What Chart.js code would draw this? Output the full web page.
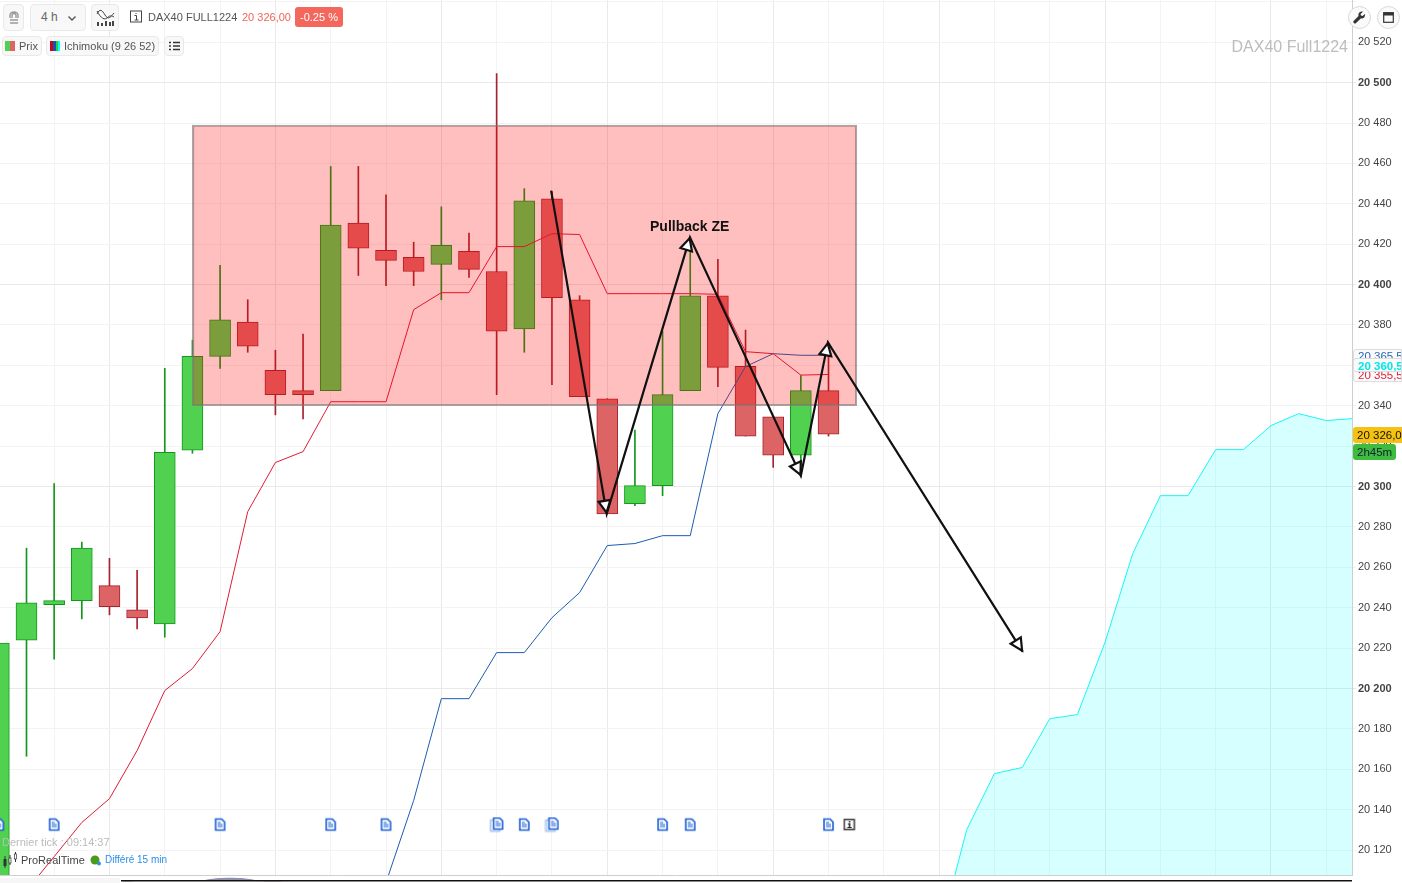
<!DOCTYPE html>
<html>
<head>
<meta charset="utf-8">
<title>DAX40 Full1224</title>
<script src="https://cdn.jsdelivr.net/npm/chart.js@4"></script>
<style>
    html, body { margin: 0; padding: 0; background: #fff; overflow: hidden; }
    body { width: 1402px; height: 883px; position: relative; font-family: "Liberation Sans", Arial, sans-serif; color: #555; }
    #wrap { position: absolute; left: 0; top: 0; width: 1402px; height: 883px; }
    .ui { position: absolute; white-space: nowrap; }
    .btn { position: absolute; background: #f8f8f8; border: 1px solid #e9e9e9; border-radius: 4px; box-sizing: border-box; }
    .round { position: absolute; width: 23px; height: 23px; border-radius: 50%; background: #fafafa; border: 1px solid #d8d8d8; box-sizing: border-box; }
    .tag { position: absolute; left: 1353px; width: 49px; overflow: hidden; white-space: nowrap; box-sizing: border-box; border-radius: 3px 0 0 3px; font-size: 11.5px; padding-left: 4px; }
</style>
</head>
<body>
<div id="wrap"><canvas id="mainChart"></canvas></div>

<!-- barre du haut -->
<div class="btn" style="left:3px;top:4px;width:21px;height:27px"></div>
<svg class="ui" style="left:8px;top:11px" width="12" height="14"><path d="M2 7V4a4 3 0 0 1 8 0v3M2 9h8M2 12h8M4 7V4a2 1.5 0 0 1 4 0v3" fill="none" stroke="#999" stroke-width="1.4"/></svg>
<div class="btn" style="left:30px;top:4px;width:56px;height:27px"></div>
<div class="ui" style="left:41px;top:10px;font-size:12px;color:#666">4 h</div>
<svg class="ui" style="left:67px;top:15px" width="10" height="7"><path d="M1.5 1.5L5 5l3.5-3.5" fill="none" stroke="#555" stroke-width="1.4"/></svg>
<div class="btn" style="left:91px;top:4px;width:28px;height:27px"></div>
<svg class="ui" style="left:96px;top:9px" width="19" height="18"><path d="M1 5C4-1 6 1 9 6s5 3 9-2M1 2c4 8 8 9 10 7s3-3 7-1" fill="none" stroke="#444" stroke-width="1"/><path d="M1 17V13h2v4zM5 17V14h2v3zM9 17V12h2v5zM13 17V13h2v4zM16 17V12h2v5z" fill="#444"/></svg>
<svg class="ui" style="left:130px;top:10px" width="12" height="13"><rect x="0.5" y="1" width="11" height="11" fill="none" stroke="#444"/><path d="M6 3v1M4.5 5.5H6.500V10M4.5 10h4" fill="none" stroke="#444"/></svg>
<div class="ui" style="left:148px;top:11px;font-size:11px;color:#555">DAX40 FULL1224</div>
<div class="ui" style="left:242px;top:11px;font-size:11px;color:#f0645a">20 326,00</div>
<div class="ui" style="left:295px;top:7px;width:48px;height:20px;background:#f4675c;border-radius:3px;color:#fff;font-size:11px;line-height:20px;text-align:center">-0.25 %</div>

<!-- legende -->
<div class="btn" style="left:2px;top:36px;width:40px;height:20px"></div>
<div class="ui" style="left:5px;top:41px;width:5px;height:10px;background:#50d250"></div>
<div class="ui" style="left:10px;top:41px;width:5px;height:10px;background:#dc6464"></div>
<div class="ui" style="left:19px;top:40px;font-size:11px">Prix</div>
<div class="btn" style="left:46px;top:36px;width:113px;height:20px"></div>
<div class="ui" style="left:50px;top:41px;width:3px;height:10px;background:#d0021b"></div>
<div class="ui" style="left:53px;top:41px;width:3px;height:10px;background:#0b57b5"></div>
<div class="ui" style="left:56px;top:41px;width:2px;height:10px;background:#2ecc40"></div>
<div class="ui" style="left:58px;top:41px;width:2px;height:10px;background:#00ffff"></div>
<div class="ui" style="left:64px;top:40px;font-size:11px">Ichimoku (9 26 52)</div>
<div class="btn" style="left:164px;top:36px;width:20px;height:20px"></div>
<svg class="ui" style="left:169px;top:41px" width="11" height="10"><path d="M0 1.500h2M4 1.500h7M0 5h2M4 5h7M0 8.500h2M4 8.500h7" stroke="#333" stroke-width="1.500"/></svg>

<!-- boutons a droite -->
<div class="round" style="left:1348px;top:6px"></div>
<svg class="ui" style="left:1353px;top:11px" width="13" height="13"><path d="M12 3L9.500 5 8 4.500 7.500 3 10 .8C8 0 6 1 5.500 3c-.2.8 0 1.500 0 2L.8 9.800a1.500 1.500 0 0 0 2.300 2.200L8 7.300c2.200.8 4.500-1.300 4-4.300z" fill="#333"/></svg>
<div class="round" style="left:1377px;top:6px"></div>
<svg class="ui" style="left:1383px;top:12px" width="11" height="11"><rect x="0.700" y="0.700" width="9.600" height="9.600" fill="none" stroke="#333" stroke-width="1.200"/><rect x="0.700" y="0.700" width="9.600" height="2.800" fill="#333"/></svg>
<div class="ui" style="right:54px;top:38px;font-size:16px;color:#bdbdbd">DAX40 Full1224</div>

<!-- annotation -->
<div class="ui" style="left:650px;top:218px;font-size:14px;font-weight:bold;color:#111">Pullback ZE</div>

<!-- etiquettes de prix -->
<div class="tag" style="top:349px;height:14px;line-height:13px;background:#fafafa;border:1px solid #ddd;color:#2a66b8">20 365,50</div>
<div class="tag" style="top:369px;height:13px;line-height:11px;background:#fafafa;border:1px solid #ddd;color:#e0203a">20 355,50</div>
<div class="tag" style="top:358px;height:14px;line-height:14px;background:#fafafa;border:1px solid #ddd;color:#00e8e8;font-weight:bold">20 360,50</div>
<div class="tag" style="top:427px;height:16px;line-height:16px;background:#f5c211;color:#111">20 326,00</div>
<div class="tag" style="top:444px;height:16px;line-height:16px;width:43px;border-radius:3px;background:#3fbb3f;color:#123">2h45m</div>

<!-- bas de page -->
<div class="ui" style="left:2px;top:836px;font-size:11px;color:#bbb">Dernier tick : 09:14:37</div>
<svg class="ui" style="left:2px;top:851px" width="16" height="18"><path d="M3 5v12" stroke="#333"/><rect x="1.500" y="8" width="3" height="7" fill="#333"/><path d="M8 4v10" stroke="#333"/><rect x="7" y="7" width="2" height="5" fill="#fff" stroke="#333" stroke-width=".7"/><path d="M13.500 1v10" stroke="#333"/><rect x="12.500" y="3" width="2" height="5" fill="#fff" stroke="#333" stroke-width=".7"/></svg>
<div class="ui" style="left:21px;top:854px;font-size:11px;color:#444">ProRealTime</div>
<svg class="ui" style="left:90px;top:855px" width="12" height="11"><circle cx="5" cy="5" r="4.500" fill="#4b9a1c"/><circle cx="9" cy="8.500" r="2" fill="#2a8fe8"/></svg>
<div class="ui" style="left:105px;top:854px;font-size:10px;color:#2a8fe8">Différé 15 min</div>
<svg class="ui" style="left:0;top:876px" width="1352" height="7">
    <rect x="0" y="2" width="120" height="5" fill="#f6f6f6"/>
    <path d="M121 4l14 0-3 1.500-8 0zM260 4l25 0-5 1.500-16 0z" fill="#f0a0a0"/>
    <path d="M205 4c12-3 38-3 50 0z" fill="#9090b0"/>
    <rect x="121" y="4" width="1231" height="1.500" fill="#111"/>
</svg>

<script>
// Bougies 4h, de la bougie -1 (coupee a gauche) a 29
const firstCandle = -1;
const candleOpen = [20100, 20224, 20241.5, 20243.5, 20251, 20239, 20232, 20318, 20364.5, 20381.5, 20357.5, 20347.5, 20347.5, 20430.5, 20417, 20413.5, 20410, 20416.5, 20406.5, 20378, 20442.5, 20392.5, 20343.5, 20291.5, 20300.5, 20347.5, 20394.5, 20359.5, 20334.5, 20315.5, 20347.5];
const candleHigh = [20222.5, 20269.5, 20301.5, 20272.5, 20264.5, 20258.5, 20358.5, 20372.5, 20409.5, 20392.5, 20367.5, 20375.5, 20458.5, 20458.5, 20444.5, 20421, 20438.5, 20425.5, 20504.5, 20447.5, 20446, 20394.5, 20343.5, 20328, 20377, 20419, 20412.5, 20377.5, 20334.5, 20355, 20371];
const candleLow = [20100, 20166.5, 20214.5, 20234.5, 20236.5, 20229.5, 20225.5, 20316.5, 20358.5, 20366.5, 20335.5, 20333.5, 20347.5, 20404.5, 20399.5, 20399.5, 20392.5, 20403.5, 20345.5, 20366.5, 20350.5, 20344.5, 20286.5, 20290.5, 20295.5, 20347.5, 20349.5, 20325, 20309.5, 20308, 20325];
const candleClose = [20222.5, 20242.5, 20243.5, 20269.5, 20240.5, 20235, 20317, 20364.5, 20382.5, 20369.5, 20345.5, 20345.5, 20429.5, 20418, 20412, 20406.5, 20419.5, 20407.5, 20377, 20441.5, 20393.5, 20344.5, 20286.5, 20300.5, 20345.5, 20394.5, 20359, 20325, 20315.5, 20347.5, 20326];

// Ichimoku
const redLineStart = 0;
const redLine = [20100, 20116.8, 20133.7, 20145.5, 20169.3, 20199, 20209.9, 20228.2, 20287.6, 20311.9, 20317.3, 20342, 20342, 20342, 20387.6, 20396, 20396, 20418.8, 20418.8, 20425.2, 20424.8, 20395.5, 20395.5, 20395.5, 20395.5, 20395.2, 20366.8, 20365.8, 20355.2, 20355.5];
const blueLineStart = 13;
const blueLine = [20104, 20144.6, 20195, 20195, 20217.8, 20217.8, 20235.1, 20247.5, 20270.8, 20271.8, 20275.7, 20275.7, 20336.1, 20359.4, 20365.8, 20365, 20365];
const cloudStart = 33;
const cloudTop = [20078, 20130.2, 20157.9, 20160.9, 20185.1, 20187.1, 20223, 20266.8, 20295.5, 20295.5, 20318.3, 20318.3, 20330.2, 20336.1, 20332.7, 20333.7];

// Zone rouge et trace des fleches (en bougies / prix)
const zoneFrom = 6;
const zoneTo = 30.02;
const zoneLow = 20340;
const zoneHigh = 20479;
const arrowX = [18.97, 20.98, 23.99, 28.0, 28.98, 36.02];
const arrowY = [20446.5, 20286.6, 20423.4, 20305.4, 20371.4, 20218.3];

// Icones d'evenements
const eventAt = [-1, 1, 7, 11, 13, 17, 18, 19, 23, 24, 29];
const eventDouble = [17, 19];
const infoAt = [29.75];
const eventRow = 20132.7;

const xGridAt = [1, 3, 5, 7, 9, 11, 13, 15, 17, 19, 21, 23, 25, 27, 29, 31, 33, 35, 37, 39, 41, 43, 45, 47];

function toPoints(start, values) {
    return values.map(function (v, i) { return { x: start + i, y: v }; });
}

function docIcon(double) {
    const c = document.createElement("canvas");
    c.width = 15;
    c.height = 16;
    const g = c.getContext("2d");
    function page(x, y, color) {
        g.fillStyle = "#fff";
        g.strokeStyle = color;
        g.lineWidth = 1.6;
        g.beginPath();
        g.moveTo(x, y);
        g.lineTo(x + 6, y);
        g.lineTo(x + 9, y + 3);
        g.lineTo(x + 9, y + 11);
        g.lineTo(x, y + 11);
        g.closePath();
        g.fill();
        g.stroke();
    }
    if (double) page(1.5, 3.5, "#a9c3ee");
    const ox = double ? 4.5 : 3;
    const oy = double ? 1.5 : 2.5;
    page(ox, oy, "#1a5fd6");
    g.fillStyle = "#1a5fd6";
    g.fillRect(ox + 2, oy + 3, 3, 1);
    g.fillRect(ox + 2, oy + 5, 5, 1);
    g.fillRect(ox + 2, oy + 7, 5, 1);
    return c;
}

function infoIcon() {
    const c = document.createElement("canvas");
    c.width = 13;
    c.height = 13;
    const g = c.getContext("2d");
    g.strokeStyle = "#444";
    g.lineWidth = 1.6;
    g.strokeRect(1.5, 1.5, 10, 10);
    g.fillStyle = "#222";
    g.fillRect(6, 3, 1.5, 1.5);
    g.fillRect(5, 5.5, 2.5, 1);
    g.fillRect(6, 5.5, 1.5, 4);
    g.fillRect(4.5, 9, 4.5, 1);
    return c;
}

// Pointes de fleche creuses, au dernier point de chaque segment
const arrowHeads = {
    id: "arrowHeads",
    afterDatasetsDraw(chart) {
        const ctx = chart.ctx;
        const xs = chart.scales.x;
        const ys = chart.scales.y;
        ctx.save();
        ctx.lineWidth = 2.2;
        ctx.lineJoin = "miter";
        ctx.strokeStyle = "#111";
        ctx.fillStyle = "#fff";
        for (let i = 1; i < arrowX.length; i++) {
            const x1 = xs.getPixelForValue(arrowX[i - 1]);
            const y1 = ys.getPixelForValue(arrowY[i - 1]);
            const x2 = xs.getPixelForValue(arrowX[i]);
            const y2 = ys.getPixelForValue(arrowY[i]);
            const a = Math.atan2(y2 - y1, x2 - x1);
            ctx.save();
            ctx.translate(x2, y2);
            ctx.rotate(a);
            ctx.beginPath();
            ctx.moveTo(-1, 0);
            ctx.lineTo(-13, -6);
            ctx.lineTo(-13, 6);
            ctx.closePath();
            ctx.fill();
            ctx.stroke();
            ctx.restore();
        }
        ctx.restore();
    },
};

document.addEventListener("DOMContentLoaded", function () {
    const wicks = candleOpen.map(function (o, i) {
        return { x: firstCandle + i, y: [candleLow[i], candleHigh[i]] };
    });
    const bodies = candleOpen.map(function (o, i) {
        return { x: firstCandle + i, y: [o, candleClose[i]] };
    });
    const isUp = candleOpen.map(function (o, i) { return candleClose[i] >= o; });
    const lineColors = isUp.map(function (u) { return u ? "#12971c" : "#a5232e"; });
    const fillColors = isUp.map(function (u) { return u ? "#50d250" : "#dc6464"; });

    const iconSingle = docIcon(false);
    const iconDouble = docIcon(true);

    new Chart(document.getElementById("mainChart").getContext("2d"), {
        type: "bar",
        plugins: [arrowHeads],
        data: {
            datasets: [
                {
                    type: "line",
                    label: "Nuage",
                    data: toPoints(cloudStart, cloudTop),
                    borderColor: "#19f5f5",
                    borderWidth: 1,
                    backgroundColor: "rgba(0,255,255,0.16)",
                    fill: "start",
                    pointRadius: 0,
                    order: 9,
                },
                {
                    label: "Meches",
                    data: wicks,
                    backgroundColor: lineColors,
                    borderWidth: 0,
                    barThickness: 1,
                    grouped: false,
                    order: 8,
                },
                {
                    label: "Corps",
                    data: bodies,
                    backgroundColor: fillColors,
                    borderColor: lineColors,
                    borderWidth: 1,
                    borderSkipped: false,
                    barThickness: 21,
                    grouped: false,
                    order: 7,
                },
                {
                    type: "line",
                    label: "Ligne bleue",
                    data: toPoints(blueLineStart, blueLine),
                    borderColor: "#1c5cb0",
                    borderWidth: 1,
                    pointRadius: 0,
                    order: 6,
                },
                {
                    type: "line",
                    label: "Ligne rouge",
                    data: toPoints(redLineStart, redLine),
                    borderColor: "#e01a38",
                    borderWidth: 1,
                    pointRadius: 0,
                    order: 5,
                },
                {
                    label: "Zone",
                    data: [{ x: (zoneFrom + zoneTo) / 2, y: [zoneLow, zoneHigh] }],
                    backgroundColor: "rgba(255,0,0,0.25)",
                    borderColor: "rgba(120,120,120,0.65)",
                    borderWidth: 1.5,
                    borderSkipped: false,
                    barThickness: 664.5,
                    grouped: false,
                    order: 4,
                },
                {
                    type: "line",
                    label: "Evenements",
                    data: eventAt.map(function (i) { return { x: i, y: eventRow }; }),
                    showLine: false,
                    pointRadius: 7,
                    pointStyle: eventAt.map(function (i) {
                        return eventDouble.includes(i) ? iconDouble : iconSingle;
                    }),
                    order: 3,
                },
                {
                    type: "line",
                    label: "Info",
                    data: infoAt.map(function (i) { return { x: i, y: eventRow }; }),
                    showLine: false,
                    pointRadius: 7,
                    pointStyle: infoIcon(),
                    order: 2,
                },
                {
                    type: "line",
                    label: "Fleches",
                    data: arrowX.map(function (x, i) { return { x: x, y: arrowY[i] }; }),
                    borderColor: "#111",
                    borderWidth: 2.2,
                    pointRadius: 0,
                    order: 1,
                },
            ],
        },
        options: {
            responsive: true,
            maintainAspectRatio: false,
            animation: false,
            events: [],
            layout: { autoPadding: false, padding: { bottom: 8 } },
            plugins: {
                legend: { display: false },
                title: { display: false },
                tooltip: { enabled: false },
            },
            scales: {
                x: {
                    type: "linear",
                    offset: false,
                    min: -0.958,
                    max: 47.929,
                    afterBuildTicks: function (scale) {
                        scale.ticks = xGridAt.map(function (v) { return { value: v }; });
                    },
                    afterFit: function (scale) {
                        scale.height = 0;
                        scale.paddingLeft = 0;
                        scale.paddingRight = 0;
                    },
                    ticks: { display: false },
                    border: { display: true, color: "#cfcfcf" },
                    grid: {
                        offset: false,
                        drawTicks: false,
                        color: function (ctx) {
                            return ctx.tick && (ctx.tick.value - 3) % 6 === 0 ? "#e9e9e9" : "#f3f3f3";
                        },
                    },
                },
                y: {
                    position: "right",
                    min: 20107.7,
                    max: 20540.9,
                    afterFit: function (scale) {
                        scale.width = 50;
                        scale.paddingTop = 0;
                        scale.paddingBottom = 0;
                    },
                    border: { display: true, color: "#cfcfcf" },
                    grid: {
                        tickLength: 4,
                        color: function (ctx) {
                            return ctx.tick && ctx.tick.value % 100 === 0 ? "#e9e9e9" : "#f3f3f3";
                        },
                    },
                    ticks: {
                        stepSize: 20,
                        includeBounds: false,
                        autoSkip: false,
                        padding: 2,
                        color: "#444",
                        font: function (ctx) {
                            const major = ctx.tick && ctx.tick.value % 100 === 0;
                            return { family: "'Liberation Sans', Arial", size: 11, weight: major ? "bold" : "normal" };
                        },
                        // 20 540 est coupe en haut, pas de libelle
                        callback: function (v) {
                            if (v > 20520) return "";
                            const s = String(v);
                            return s.slice(0, 2) + " " + s.slice(2);
                        },
                    },
                },
            },
        },
    });
});
</script>
</body>
</html>
